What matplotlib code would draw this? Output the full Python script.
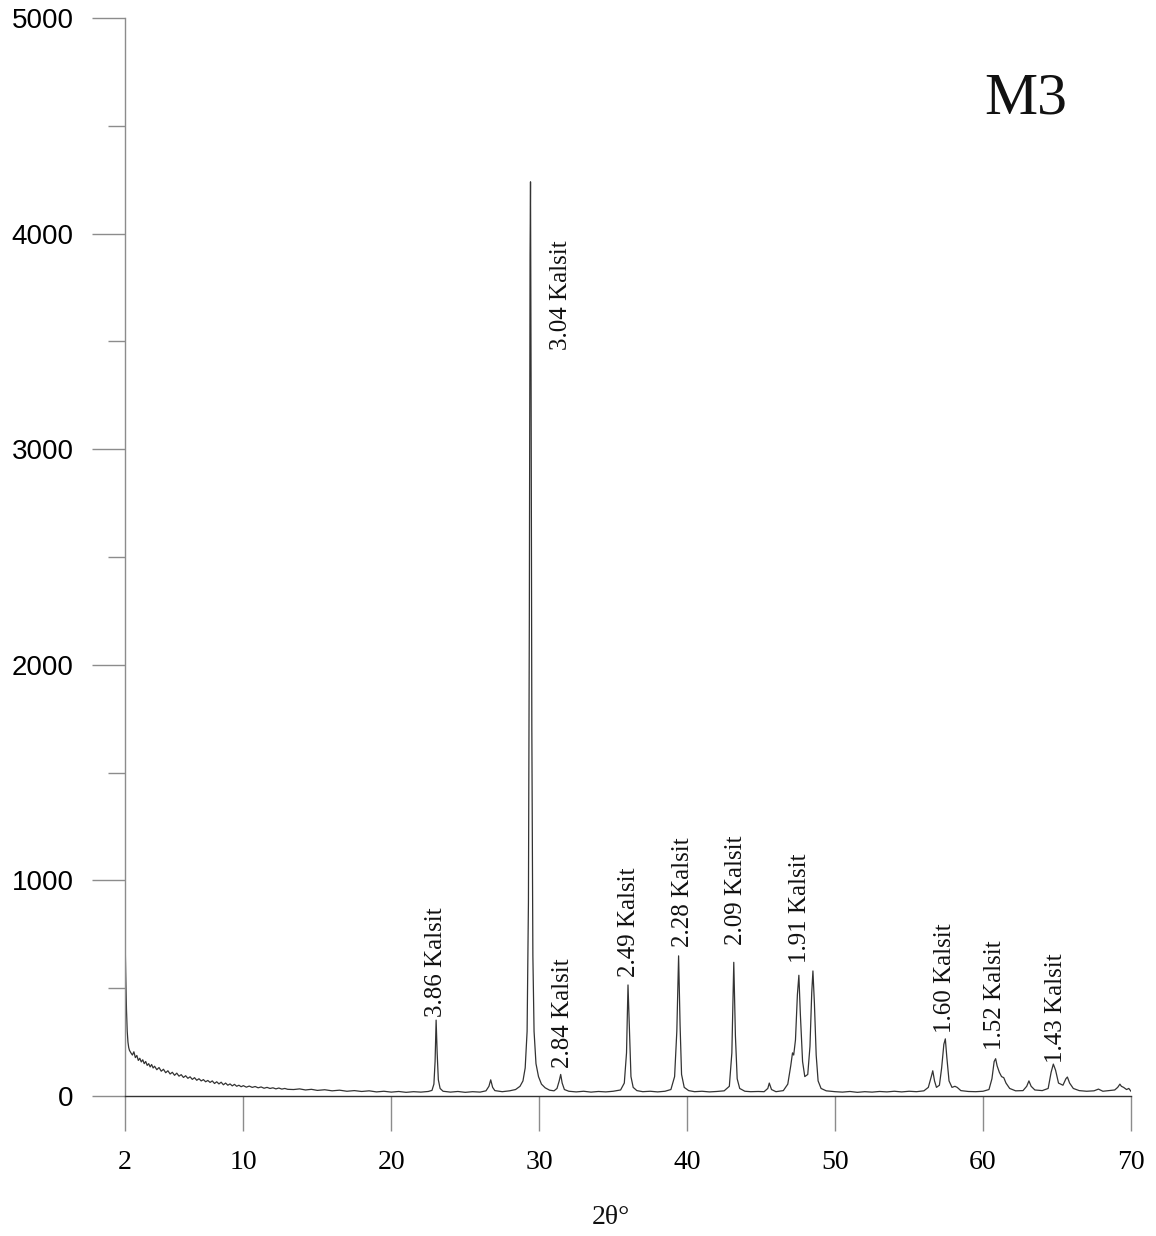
import matplotlib
matplotlib.use("Agg")
import matplotlib.pyplot as plt
import numpy as np

# ---- data ----
two_theta = [
    2.00, 2.05, 2.10, 2.15, 2.20, 2.25, 2.30,
    2.40, 2.50, 2.60, 2.70, 2.80, 2.90, 3.00, 3.10, 3.20, 3.30, 3.40, 3.50, 3.60, 3.70, 3.80, 3.90, 4.00,
    4.15, 4.30, 4.45, 4.60, 4.75, 4.90, 5.05, 5.20, 5.35, 5.50, 5.65, 5.80, 5.95, 6.10, 6.25, 6.40,
    6.55, 6.70, 6.85, 7.00, 7.15, 7.30, 7.45, 7.60, 7.75, 7.90, 8.05, 8.20, 8.35, 8.50, 8.65, 8.80,
    8.95, 9.10, 9.25, 9.40, 9.55, 9.70, 9.85, 10.0,
    10.2, 10.4, 10.6, 10.8, 11.0, 11.2, 11.4, 11.6, 11.8, 12.0, 12.2, 12.4, 12.6, 12.8, 13.0,
    13.4, 13.8,
    14.2, 14.6, 15.0, 15.5, 16.0, 16.5, 17.0, 17.5, 18.0, 18.5, 19.0, 19.5, 20.0, 20.5, 21.0, 21.5,
    22.0, 22.5, 22.75, 22.88, 22.96, 23.03, 23.10, 23.18, 23.30, 23.50, 24.0, 24.5, 25.0, 25.5, 26.0,
    26.4, 26.6, 26.72, 26.85, 27.0, 27.5, 28.0, 28.4, 28.7, 28.9, 29.05, 29.18, 29.27, 29.33, 29.38,
    29.41, 29.45, 29.50, 29.57, 29.65, 29.78, 29.95, 30.15, 30.4, 30.7, 31.0, 31.2, 31.35, 31.45,
    31.55, 31.7, 32.0, 32.5, 33.0, 33.5, 34.0, 34.5, 35.0, 35.5, 35.75, 35.9, 36.0, 36.1, 36.2,
    36.35, 36.6, 37.0, 37.5, 38.0, 38.5, 38.9, 39.15, 39.3, 39.42, 39.52, 39.62, 39.8, 40.1, 40.5,
    41.0, 41.5, 42.0, 42.5, 42.85, 43.02, 43.15, 43.26, 43.38, 43.55, 43.9, 44.3, 44.8, 45.2, 45.45,
    45.55, 45.7, 46.0, 46.5, 46.8, 47.0, 47.12, 47.2, 47.32, 47.45, 47.55, 47.65, 47.8, 47.95, 48.15,
    48.3, 48.42, 48.5, 48.6, 48.72, 48.85, 49.05, 49.4, 50.0, 50.5, 51.0, 51.5, 52.0, 52.5, 53.0,
    53.5, 54.0, 54.5, 55.0, 55.5, 56.0, 56.3, 56.5, 56.6, 56.72, 56.85, 57.05, 57.2, 57.35, 57.45,
    57.55, 57.7, 57.9, 58.1, 58.25, 58.5, 59.0, 59.5, 60.0, 60.4, 60.6, 60.75, 60.85, 60.95, 61.1,
    61.25, 61.4, 61.55, 61.8, 62.2, 62.7, 62.95, 63.1, 63.25, 63.5, 64.0, 64.4, 64.6, 64.75, 64.9,
    65.1, 65.4, 65.6, 65.7, 65.85, 66.1, 66.5, 67.0, 67.5, 67.8, 68.1, 68.5, 68.9, 69.1, 69.25,
    69.35, 69.5, 69.7, 69.85, 70.0,
]
intensity = [
    750, 560, 400, 300, 250, 225, 212,
    200, 190, 205, 178, 188, 165, 175, 158, 168, 150, 160, 142, 150, 135, 146, 130, 138,
    122, 132, 115, 124, 108, 117, 102, 110, 96, 106, 92, 99, 86, 94, 82, 89,
    77, 85, 73, 80, 70, 76, 66, 72, 63, 70, 58, 66, 56, 64, 52, 60,
    50, 56, 47, 54, 45, 50, 43, 48,
    41, 46, 40, 44, 38, 42, 36, 40, 35, 38, 33, 37, 32, 35, 31,
    30, 33,
    28, 31, 26, 29, 24, 27, 22, 25, 21, 24, 19, 22, 18, 21, 17, 20,
    18, 21, 26, 55, 160, 352, 200, 75, 35, 22, 18, 21, 17, 20, 18,
    24, 45, 75, 40, 25, 20, 24, 30, 45, 70, 130, 300, 900, 2200, 3900,
    4240, 3300, 1700, 650, 300, 150, 90, 55, 38, 27, 24, 35, 70, 100,
    60, 30, 22, 19, 22, 18, 21, 19, 22, 28, 60, 200, 515, 300, 90,
    40, 25, 20, 22, 19, 22, 30, 90, 300, 650, 330, 100, 40, 25, 20,
    22, 19, 21, 24, 45, 200, 620, 280, 80, 35, 22, 20, 21, 20, 35,
    60, 30, 20, 25, 55, 140, 200, 190, 260, 470, 560, 380, 160, 90, 100,
    230, 480, 580, 430, 190, 70, 35, 24, 20, 18, 21, 17, 20, 18, 21,
    19, 22, 19, 22, 20, 24, 40, 90, 117, 70, 40, 50, 130, 240, 265,
    180, 70, 40, 45, 40, 25, 21, 20, 22, 30, 80, 160, 173, 140, 110,
    90, 85, 60, 35, 24, 25, 45, 70, 45, 28, 25, 35, 110, 148, 120,
    60, 50, 80, 88, 60, 35, 25, 22, 24, 32, 22, 25, 28, 40, 55,
    45, 40, 30, 35, 22,
]

x_ticks = [2, 10, 20, 30, 40, 50, 60, 70]
y_ticks = [0, 1000, 2000, 3000, 4000, 5000]

label_text = ["3.86 Kalsit", "3.04 Kalsit", "2.84 Kalsit", "2.49 Kalsit", "2.28 Kalsit",
              "2.09 Kalsit", "1.91 Kalsit", "1.60 Kalsit", "1.52 Kalsit", "1.43 Kalsit"]
label_x = [23.03, 31.47, 31.6, 36.07, 39.7, 43.3, 47.6, 57.4, 60.8, 64.9]
label_y = [367, 3460, 130, 552, 691, 700, 617, 292, 213, 153]

sample_name = "M3"
x_label = "2θ°"

# ---- figure ----
W, H = 1156, 1236
fig = plt.figure(figsize=(W / 100, H / 100), dpi=100)
ax = fig.add_axes([125 / W, 1 - 1096 / H, (1131 - 125) / W, (1096 - 18) / H])

n = min(len(two_theta), len(intensity))
ax.plot(two_theta[:n], intensity[:n], color="#333333", lw=0.9)

ax.set_xlim(2, 70)
ax.set_ylim(0, 5000)

for s in ["top", "right"]:
    ax.spines[s].set_visible(False)
ax.spines["left"].set_color("#8c8c8c")
ax.spines["left"].set_linewidth(1.0)
ax.spines["bottom"].set_color("#333333")
ax.spines["bottom"].set_linewidth(1.0)

serif = ["Liberation Serif", "DejaVu Serif"]
sans = ["Liberation Sans", "DejaVu Sans"]

ax.set_xticks(x_ticks)
ax.set_xticklabels([str(t) for t in x_ticks], fontfamily=serif, fontsize=20)
ax.tick_params(axis="x", direction="out", length=25, width=1.0, color="#8c8c8c", pad=14)

ax.set_yticks(y_ticks)
ax.set_yticklabels([str(t) for t in y_ticks], fontfamily=sans, fontsize=20)
ax.set_yticks(np.arange(500, 5000, 1000), minor=True)
ax.tick_params(axis="y", which="major", direction="out", length=24, width=1.0, color="#8c8c8c", pad=13)
ax.tick_params(axis="y", which="minor", direction="out", length=12, width=1.0, color="#8c8c8c")

for t, xv, yv in zip(label_text, label_x, label_y):
    ax.text(xv, yv, t, rotation=90, ha="center", va="bottom",
            fontfamily=serif, fontsize=18, color="#111111")

fig.text(1026 / W, 1 - 100 / H, sample_name, ha="center", va="center",
         fontfamily=serif, fontsize=43, color="#111111")
fig.text(611 / W, 1 - 1217 / H, x_label, ha="center", va="center",
         fontfamily=serif, fontsize=20, color="#111111")

fig.savefig("out.png", dpi=100)
